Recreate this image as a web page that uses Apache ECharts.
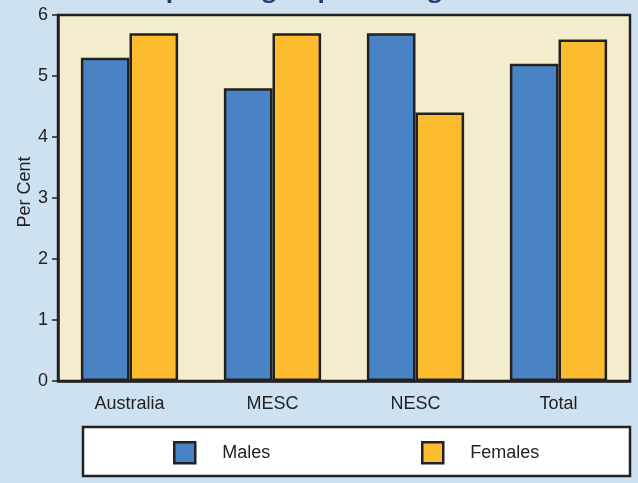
<!DOCTYPE html>
<html>
<head>
<meta charset="utf-8">
<script src="https://cdn.jsdelivr.net/npm/echarts@6/dist/echarts.min.js"></script>
<style>
html,body{margin:0;padding:0;background:#cee1f1;}
#c{width:638px;height:483px;}
</style>
</head>
<body>
<div id="c"></div>
<script>
var categories = ['Australia', 'MESC', 'NESC', 'Total'];
var males = [5.3, 4.8, 5.7, 5.2];
var females = [5.7, 5.7, 4.4, 5.6];
var yTicks = [0, 1, 2, 3, 4, 5, 6];
var titleText = 'Comparison group, 2011, age';

var chart = echarts.init(document.getElementById('c'), null, {renderer: 'canvas'});
var FONT = 'Liberation Sans, Arial, sans-serif';
chart.setOption({
  backgroundColor: '#cee1f1',
  animation: false,
  graphic: [
    {type: 'text', left: 112, top: -22, z: 1,
     style: {text: titleText, font: 'bold 24px "Open Sans", sans-serif', fill: '#1b3f73'}},
    {type: 'rect', z: 0, shape: {x: 83, y: 427, width: 547, height: 49},
     style: {fill: '#ffffff', stroke: '#222222', lineWidth: 2.5}}
  ],
  grid: {left: 58, right: 8, top: 15, bottom: 102, show: true,
         backgroundColor: '#f3edcd', borderColor: '#222222', borderWidth: 2.5},
  legend: [
    {data: ['Males'], left: 173, top: 441, padding: 0, itemWidth: 21, itemHeight: 21, icon: 'rect', z: 5,
     textStyle: {fontFamily: FONT, fontSize: 18, color: '#222', padding: [0, 0, 0, 22]},
     itemStyle: {borderColor: '#222', borderWidth: 2.5}},
    {data: ['Females'], left: 421, top: 441, padding: 0, itemWidth: 21, itemHeight: 21, icon: 'rect', z: 5,
     textStyle: {fontFamily: FONT, fontSize: 18, color: '#222', padding: [0, 0, 0, 22]},
     itemStyle: {borderColor: '#222', borderWidth: 2.5}}
  ],
  xAxis: {
    type: 'category', data: categories,
    axisLine: {show: true, lineStyle: {color: '#222', width: 2.5}},
    axisTick: {show: false},
    axisLabel: {fontFamily: FONT, fontSize: 18, color: '#222', margin: 14}
  },
  yAxis: {
    type: 'value', min: yTicks[0], max: yTicks[yTicks.length - 1], interval: 1,
    name: 'Per Cent', nameLocation: 'middle', nameGap: 24, nameMoveOverlap: false,
    nameTextStyle: {fontFamily: FONT, fontSize: 18, color: '#222', padding: [0, 0, 0, 12]},
    axisLine: {show: true, lineStyle: {color: '#222', width: 2.5}},
    axisTick: {show: true, length: 6, lineStyle: {color: '#222', width: 1.5}},
    axisLabel: {fontFamily: FONT, fontSize: 18, color: '#222', margin: 10},
    splitLine: {show: false}
  },
  series: [
    {name: 'Males', type: 'bar', data: males, barGap: '0%', barCategoryGap: '32%',
     itemStyle: {color: '#4a83c4', borderColor: '#222', borderWidth: 2.5}},
    {name: 'Females', type: 'bar', data: females, barGap: '0%', barCategoryGap: '32%',
     itemStyle: {color: '#fdbb2f', borderColor: '#222', borderWidth: 2.5}}
  ]
});
</script>
</body>
</html>
